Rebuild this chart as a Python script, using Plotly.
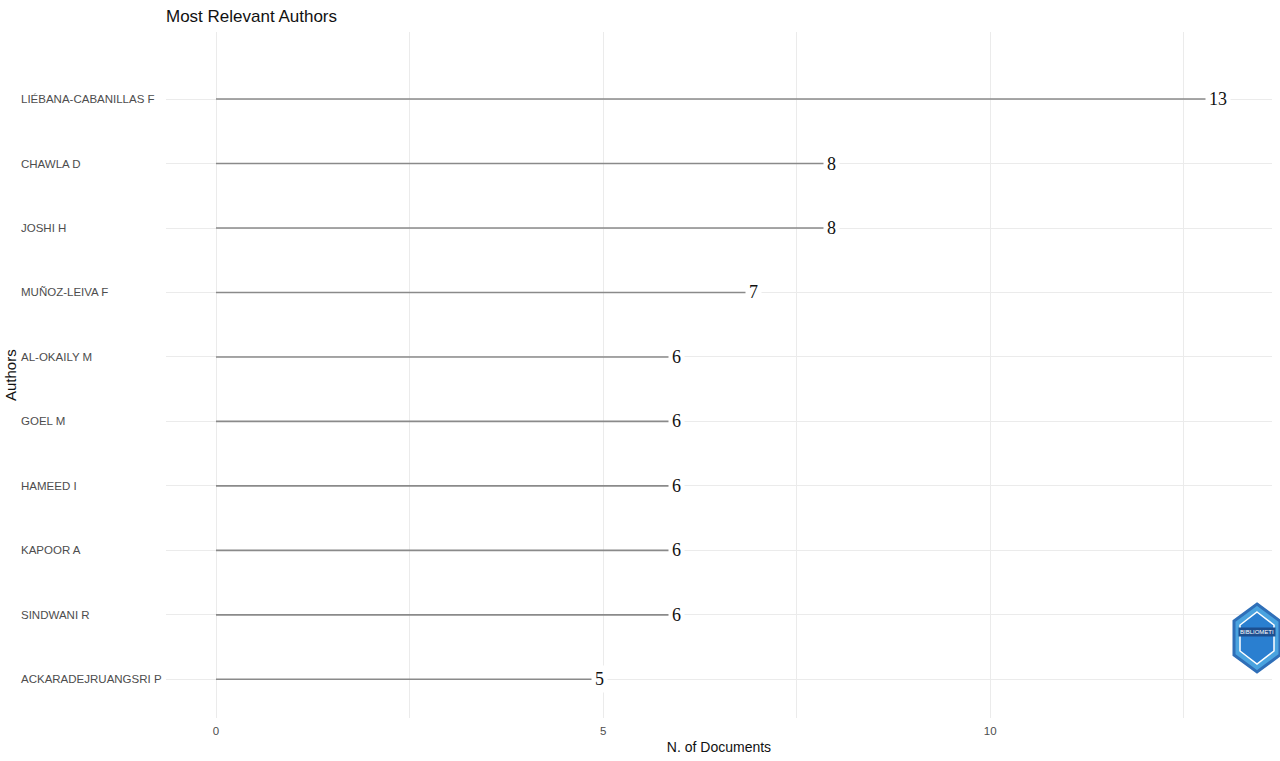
import plotly.graph_objects as go

authors = ["ACKARADEJRUANGSRI P", "SINDWANI R", "KAPOOR A", "HAMEED I", "GOEL M",
           "AL-OKAILY M", "MUÑOZ-LEIVA F", "JOSHI H", "CHAWLA D", "LIÉBANA-CABANILLAS F"]
documents = [5, 6, 6, 6, 6, 6, 7, 8, 8, 13]
x_tickvals = [0, 2.5, 5, 7.5, 10, 12.5]
x_ticktext = ["0", "", "5", "", "10", ""]

W, H = 1280, 761
L, T = 166, 32
R = W - 1272
B = H - 718
pw = W - L - R
ph = H - T - B

def px(x):
    return (x - L) / pw

def py(y):
    return 1 - (y - T) / ph

fig = go.Figure()

# lollipop stems
xs, ys = [], []
for i, v in enumerate(documents):
    xs += [0, v, None]
    ys += [i, i, None]
fig.add_trace(go.Scatter(x=xs, y=ys, mode="lines",
                         line=dict(color="#8a8a8a", width=1.6),
                         hoverinfo="skip", showlegend=False))

annotations = []
# value labels with white background
for i, v in enumerate(documents):
    annotations.append(dict(x=v, y=i, xref="x", yref="y", text=str(v), showarrow=False,
                            font=dict(family="Liberation Serif", size=18, color="#111111"),
                            bgcolor="white", borderpad=3, xanchor="center", yanchor="middle",
                            xshift=-4))
# left-aligned author labels
for i, a in enumerate(authors):
    annotations.append(dict(x=px(19), y=i, xref="paper", yref="y", text=a,
                            showarrow=False, xanchor="left", yanchor="middle",
                            font=dict(family="Liberation Sans", size=11.5, color="#4d4d4d")))
# y axis title
annotations.append(dict(x=px(10), y=py(375), xref="paper", yref="paper", text="Authors",
                        showarrow=False, textangle=-90, xanchor="center", yanchor="middle",
                        font=dict(family="Liberation Sans", size=15, color="#111111")))

# logo (approximate hexagon badge)
lx0, lx1, ly0, ly1 = 1234, 1280, 604, 672
cx = (lx0 + lx1) / 2
hex_pts = [(cx, ly0), (lx1, ly0 + 17), (lx1, ly1 - 17), (cx, ly1), (lx0, ly1 - 17), (lx0, ly0 + 17)]
path = "M " + " L ".join(f"{px(x)},{py(y)}" for x, y in hex_pts) + " Z"
shapes = [dict(type="path", path=path, xref="paper", yref="paper",
               line=dict(color="#2f6fb8", width=3), fillcolor="#4aa3df", layer="above")]
inner = [(cx, ly0 + 8), (lx1 - 6, ly0 + 21), (lx1 - 6, ly1 - 21), (cx, ly1 - 8), (lx0 + 6, ly1 - 21), (lx0 + 6, ly0 + 21)]
path2 = "M " + " L ".join(f"{px(x)},{py(y)}" for x, y in inner) + " Z"
shapes.append(dict(type="path", path=path2, xref="paper", yref="paper",
                   line=dict(color="white", width=1.5), fillcolor="#2a7fd0", layer="above"))
annotations.append(dict(x=px(cx), y=py(632), xref="paper", yref="paper", text="BIBLIOMETI",
                        showarrow=False, font=dict(family="Liberation Sans", size=6, color="white"),
                        bgcolor="#1d4f8f", xanchor="center", yanchor="middle"))

fig.update_layout(
    width=W, height=H,
    margin=dict(l=L, r=R, t=T, b=B, pad=0),
    paper_bgcolor="white", plot_bgcolor="white",
    title=dict(text="Most Relevant Authors", x=L / W, xanchor="left", y=1 - 16 / H, yanchor="middle",
               font=dict(family="Liberation Sans", size=17, color="#111111")),
    xaxis=dict(range=[-0.646, 13.64], tickvals=x_tickvals, ticktext=x_ticktext,
               showgrid=True, gridcolor="#ebebeb", gridwidth=1, zeroline=False,
               showline=False, ticks="", ticklen=0, ticklabelstandoff=4,
               tickfont=dict(family="Liberation Sans", size=11.5, color="#4d4d4d"),
               title=dict(text="N. of Documents", standoff=6,
                          font=dict(family="Liberation Sans", size=14, color="#111111"))),
    yaxis=dict(range=[-0.6, 10.04], tickvals=list(range(len(authors))), showticklabels=False,
               showgrid=True, gridcolor="#ebebeb", gridwidth=1.2, zeroline=False,
               showline=False, ticks=""),
    annotations=annotations,
    shapes=shapes,
    showlegend=False,
)

fig.write_html("out.html", config={"displayModeBar": False},
               post_script="document.body.style.margin='0';document.body.style.overflow='hidden';")
